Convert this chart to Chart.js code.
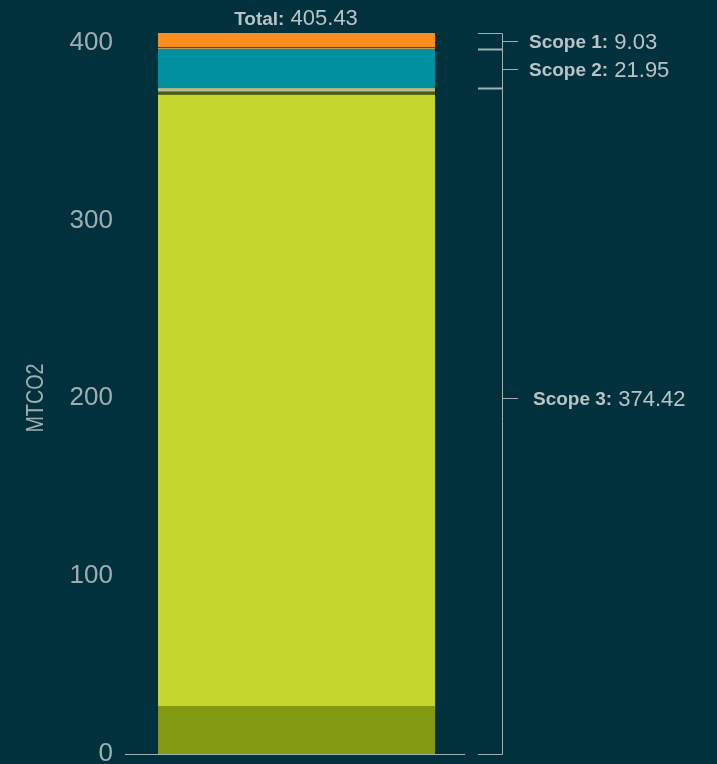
<!DOCTYPE html>
<html>
<head>
<meta charset="utf-8">
<script src="https://cdn.jsdelivr.net/npm/chart.js@4"></script>
<style>
  html, body { margin: 0; padding: 0; background: #02313e; }
  #wrap { width: 717px; height: 764px; }
</style>
</head>
<body>
<div id="wrap"><canvas id="myChart" width="717" height="764"></canvas></div>
<script>
// stacked segments, bottom to top
const segmentNames = ['Scope 3 a', 'Scope 3 b', 'Scope 3 c', 'Scope 3 d', 'Scope 3 e', 'Scope 2', 'Scope 1 a', 'Scope 1 b', 'Scope 1 c'];
const segmentValues = [27.0, 343.7, 1.7, 1.7, 0.32, 21.95, 0.5, 0.5, 8.03];
const segmentColors = ['#849a12', '#c5d62e', '#4c5b09', '#b5b8a3', '#d4e36a', '#00909f', '#f5b971', '#6b4a1c', '#f98e1e'];

// bracket labels, bottom to top
const scopeNames = ['Scope 3', 'Scope 2', 'Scope 1'];
const scopeTotals = [374.42, 21.95, 9.03];
const scope3LabelAt = 200;

const totalValue = 405.43;
const yTicks = [0, 100, 200, 300, 400];
const yTitle = 'MTCO2';

const textColor = '#b9c3c5';
const lineColor = '#a3b0b3';

// draws baseline, brackets, scope labels, total and axis title
const annotations = {
    id: 'annotations',
    afterDraw(chart) {
        const ctx = chart.ctx;
        const y = chart.scales.y;
        const area = chart.chartArea;
        ctx.save();

        // baseline
        const y0 = Math.round(y.getPixelForValue(0)) + 0.5;
        ctx.strokeStyle = lineColor;
        ctx.lineWidth = 1;
        ctx.beginPath();
        ctx.moveTo(area.left, y0);
        ctx.lineTo(area.right - 3, y0);
        ctx.stroke();

        // brackets
        const bx = 502.5, bl = 478, tickEnd = 518;
        let start = 0;
        scopeTotals.forEach((v, i) => {
            const end = start + v;
            const yb = Math.round(y.getPixelForValue(start)) + 0.5;
            const yt = Math.round(y.getPixelForValue(end)) + 0.5;
            ctx.strokeStyle = lineColor;
            ctx.lineWidth = 1;
            ctx.beginPath();
            ctx.moveTo(bl, yb); ctx.lineTo(bx, yb); ctx.lineTo(bx, yt); ctx.lineTo(bl, yt);
            ctx.stroke();
            if (i > 0) {
                ctx.lineWidth = 2;
                ctx.beginPath();
                ctx.moveTo(bl, yb); ctx.lineTo(bx, yb);
                ctx.stroke();
            }

            const mid = i === 0 ? y.getPixelForValue(scope3LabelAt) : (y.getPixelForValue(start) + y.getPixelForValue(end)) / 2;
            const my = Math.round(mid) + 0.5;
            ctx.lineWidth = 1;
            ctx.beginPath();
            ctx.moveTo(bx, my); ctx.lineTo(tickEnd, my);
            ctx.stroke();

            // label
            const lx = i === 0 ? 533 : 529;
            ctx.fillStyle = textColor;
            ctx.textBaseline = 'middle';
            ctx.textAlign = 'left';
            ctx.font = 'bold 19px "Liberation Sans"';
            const head = scopeNames[i] + ':';
            ctx.fillText(head, lx, my + 1);
            const w = ctx.measureText(head).width;
            ctx.font = '22px "Liberation Sans"';
            ctx.fillText(' ' + scopeTotals[i].toFixed(2), lx + w, my + 1);
            start = end;
        });

        // total label
        ctx.fillStyle = textColor;
        ctx.textBaseline = 'alphabetic';
        ctx.font = 'bold 19px "Liberation Sans"';
        const tHead = 'Total:';
        const tw1 = ctx.measureText(tHead).width;
        ctx.font = '22px "Liberation Sans"';
        const tVal = ' ' + totalValue.toFixed(2);
        const tw2 = ctx.measureText(tVal).width;
        const tx = 296 - (tw1 + tw2) / 2;
        ctx.font = 'bold 19px "Liberation Sans"';
        ctx.textAlign = 'left';
        ctx.fillText(tHead, tx, 25);
        ctx.font = '22px "Liberation Sans"';
        ctx.fillText(tVal, tx + tw1, 25);

        // axis title
        ctx.translate(37, 398);
        ctx.rotate(-Math.PI / 2);
        ctx.scale(0.86, 1);
        ctx.textAlign = 'center';
        ctx.textBaseline = 'middle';
        ctx.font = '23px "Liberation Sans"';
        ctx.fillStyle = '#9fadb1';
        ctx.fillText(yTitle, 0, 0);
        ctx.restore();
    }
};

const ctx = document.getElementById('myChart').getContext('2d');
const myChart = new Chart(ctx, {
    type: 'bar',
    data: {
        labels: [''],
        datasets: segmentNames.map((name, i) => ({
            label: name,
            data: [segmentValues[i]],
            backgroundColor: segmentColors[i],
            borderWidth: 0,
            barPercentage: 0.8076,
            categoryPercentage: 1,
            stack: 'total'
        }))
    },
    options: {
        responsive: false,
        animation: false,
        layout: { padding: { top: 7, bottom: 10, left: 0, right: 249 } },
        plugins: { legend: { display: false }, tooltip: { enabled: false } },
        scales: {
            x: { stacked: true, display: false },
            y: {
                stacked: true,
                min: 0,
                max: 420,
                grid: { display: false, drawTicks: false },
                border: { display: false },
                afterBuildTicks: (s) => { s.ticks = yTicks.map(v => ({ value: v })); },
                afterFit: (s) => { s.width = 125; s.paddingTop = 0; s.paddingBottom = 0; },
                ticks: {
                    padding: 12,
                    color: '#9fadb1',
                    font: { family: 'Liberation Sans', size: 26 }
                }
            }
        }
    },
    plugins: [annotations]
});
</script>
</body>
</html>
